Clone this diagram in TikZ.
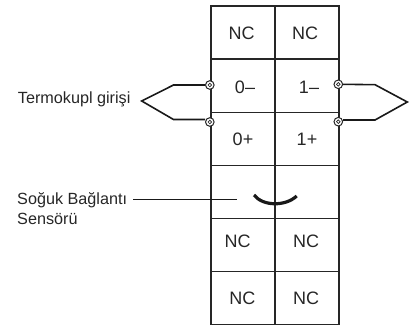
\documentclass[tikz,border=0pt]{standalone}
\usepackage{fontspec}
\setmainfont{Liberation Sans}
\tikzset{
  x=1pt,y=-1pt,
  cell/.style={draw=black!85,line width=1.4pt,minimum width=64pt,minimum height=53pt,inner sep=0pt,anchor=north west},
  celltext/.style={font=\fontsize{18}{20}\selectfont,text=black!85,inner sep=0pt},
  lbl/.style={font=\fontsize{16.2}{19.7}\selectfont,text=black!85,inner sep=0pt,anchor=west,align=left},
  tc/.style={draw=black!90,line width=1.6pt,line join=miter},
  lead/.style={draw=black!90,line width=1.1pt},
  term/.style={circle,draw=black!85,fill=white,line width=1pt,minimum size=8.6pt,inner sep=0pt},
  dot/.style={circle,draw=black!85,line width=.7pt,minimum size=3.6pt,inner sep=0pt},
}
\begin{document}
\begin{tikzpicture}
\useasboundingbox (0,0) rectangle (414,324);
\foreach \nm/\xx in {l/210.3,r/274.3}{
  \foreach \rw/\yy in {a/5.3,b/58.5,c/111.7,d/164.7,e/217.7,f/270.6}{
    \node[cell] (\nm\rw) at (\xx,\yy) {};
  }
}
\node[celltext] (t1) at (241.7,33) {NC};
\node[celltext] (t2) at (305,33) {NC};
\node[celltext] (t3) at (245,87) {0--};
\node[celltext] (t4) at (309,87) {1--};
\node[celltext] (t5) at (243,139.5) {0+};
\node[celltext] (t6) at (307,139.5) {1+};
\node[celltext] (t7) at (237.7,241) {NC};
\node[celltext] (t8) at (306,241) {NC};
\node[celltext] (t9) at (242.3,298.5) {NC};
\node[celltext] (t10) at (306,298.5) {NC};
% thermocouples
\coordinate (ltip) at (141.7,101);
\coordinate (rtip) at (407.3,102);
\node[term] (lm) at (209.8,85) {};
\node[term] (lp) at (209.8,122) {};
\node[term] (rm) at (338.3,84.3) {};
\node[term] (rp) at (338.3,121.7) {};
\draw[tc] (lm.west) -- (173.5,85) -- (ltip) -- (173.5,119.5) -- (lp.west|-0,119.5);
\draw[tc] (rm.east) -- (375,84.7) -- (rtip) -- (375,120) -- (rp.east|-0,120);
\foreach \n in {lm,lp,rm,rp}{\node[dot] at (\n) {};}
% labels
\node[lbl] (tk) at (17.7,99.5) {Termokupl girişi};
\node[lbl] (sg) at (17,208.5) {Soğuk Bağlantı\\Sensörü};
\coordinate (sl) at (133,199.3);
\coordinate (sr) at (236.6,199.3);
\draw[lead] (sl) -- (sr);
\coordinate (aa) at (254,195);
\coordinate (ab) at (296.7,196);
\draw[line width=3.2pt,draw=black!90] (aa) .. controls (263,206.5) and (285.5,206.5) .. (ab);
\end{tikzpicture}
\end{document}
